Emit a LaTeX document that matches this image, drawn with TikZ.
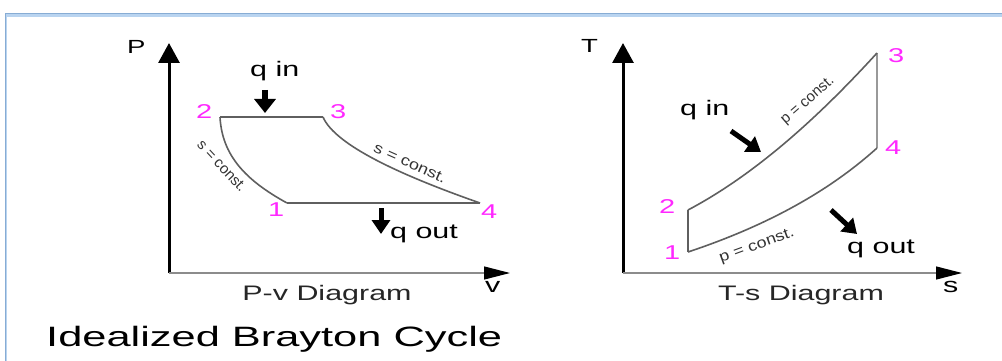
\documentclass[tikz,border=0pt]{standalone}
\usepackage{fontspec}
\setmainfont{Liberation Sans}
\usepackage{graphicx}
\usetikzlibrary{arrows.meta}
\definecolor{pinkno}{RGB}{255,40,255}
\definecolor{framebl}{RGB}{185,212,240}
\definecolor{framedk}{RGB}{135,172,212}
\definecolor{cycgray}{RGB}{95,95,95}
\newcommand{\wide}[2][1.45]{\scalebox{#1}[1]{#2}}
\begin{document}
\begin{tikzpicture}[x=1pt,y=-1pt,
  num/.style={text=pinkno, font=\fontsize{20}{20}\selectfont, inner sep=0pt, anchor=base west},
  lab/.style={font=\fontsize{21}{21}\selectfont, inner sep=0pt, anchor=base west},
  captext/.style={font=\fontsize{21}{21}\selectfont, inner sep=0pt, anchor=base, text=black!85},
  small/.style={font=\fontsize{15}{15}\selectfont, inner sep=0pt, text=black!80},
  yaxis/.style={line width=3pt, -{Triangle[width=21pt,length=20pt]}},
  xaxis/.style={draw=black!45, line width=1.2pt, -{Triangle[width=13pt,length=26pt,fill=black,color=black]}},
  cyc/.style={draw=cycgray, line width=1.6pt, line join=round},
  qarrow/.style={line width=6pt, -{Triangle[width=21pt,length=14pt]}}
]
\useasboundingbox (0,0) rectangle (1002,361);
% frame
\draw[framebl, line width=2.5pt] (6,361) -- (6,15.5) -- (1002,15.5);
\draw[framedk, line width=1pt] (5,361) -- (5,13.5) -- (1002,13.5);

% ---------- P-v diagram ----------
\coordinate (PO) at (169,273);
\coordinate (PY) at (169,43);
\coordinate (PX) at (510,273);
\draw[yaxis] (PO) -- (PY);
\draw[xaxis] (PO) -- (PX);
\node[lab, font=\fontsize{19}{19}\selectfont] (Plab) at (127,54) {\wide{P}};
\node[lab] (vlab) at (485,292) {\wide{v}};
\node[captext] (pvcap) at (327,300) {\wide{P-v Diagram}};

\coordinate (a1) at (287,203);
\coordinate (a2) at (220,117);
\coordinate (a3) at (323,117);
\coordinate (a4) at (480,203);
\draw[cyc] (a1) -- (a4);
\draw[cyc, line width=2.2pt] (a2) -- (a3);
\draw[cyc] (a2) .. controls (222,155) and (245,180) .. (a1);
\draw[cyc] (a3) .. controls (335,145) and (400,175) .. (a4);

\node[num] (n1a) at (268,216) {\wide{1}};
\node[num] (n2a) at (196,118) {\wide{2}};
\node[num] (n3a) at (330,118) {\wide{3}};
\node[num] (n4a) at (481,218) {\wide{4}};

\node[small, rotate=-47] (sc1) at (222,166) {s = const.};
\node[small, rotate=-24] (sc2) at (410,163) {\wide[1.2]{s = const.}};

\node[lab] (qin1) at (250,77) {\wide{q in}};
\coordinate (qi1s) at (265,90);
\coordinate (qi1e) at (265,113);
\draw[qarrow] (qi1s) -- (qi1e);
\node[lab] (qout1) at (390,238) {\wide{q out}};
\coordinate (qo1s) at (381,208);
\coordinate (qo1e) at (381,234);
\draw[qarrow, line width=5pt, -{Triangle[width=18pt,length=14pt]}] (qo1s) -- (qo1e);

% ---------- T-s diagram ----------
\coordinate (TO) at (623,273);
\coordinate (TY) at (623,43);
\coordinate (TX) at (962,273);
\draw[yaxis] (TO) -- (TY);
\draw[xaxis] (TO) -- (TX);
\node[lab, font=\fontsize{19}{19}\selectfont] (Tlab) at (581,53) {\wide{T}};
\node[lab] (slab) at (943,292) {\wide{s}};
\node[captext] (tscap) at (801,300) {\wide{T-s Diagram}};

\coordinate (b1) at (688,252);
\coordinate (b2) at (688,210);
\coordinate (b3) at (877,53);
\coordinate (b4) at (877,148);
\draw[cyc] (b1) -- (b2);
\draw[cyc, draw=black!40] (b3) -- (b4);
\draw[cyc] (b2) .. controls (760,172) and (825,110) .. (b3);
\draw[cyc] (b1) .. controls (760,228) and (825,195) .. (b4);

\node[num] (n1b) at (664,259) {\wide{1}};
\node[num] (n2b) at (659,213) {\wide{2}};
\node[num] (n3b) at (888,63) {\wide{3}};
\node[num] (n4b) at (885,154) {\wide{4}};

\node[small, rotate=41] (pc1) at (808,101) {p = const.};
\node[small, rotate=20] (pc2) at (757,246) {\wide[1.2]{p = const.}};

\node[lab] (qin2) at (680,115) {\wide{q in}};
\coordinate (qi2s) at (731,131);
\coordinate (qi2e) at (761,152);
\draw[qarrow, line width=5pt, -{Triangle[width=18pt,length=14pt]}] (qi2s) -- (qi2e);
\node[lab] (qout2) at (847,253) {\wide{q out}};
\coordinate (qo2s) at (831,210);
\coordinate (qo2e) at (857,234);
\draw[qarrow, line width=5pt, -{Triangle[width=18pt,length=14pt]}] (qo2s) -- (qo2e);

% ---------- title ----------
\node[inner sep=0pt, anchor=base west, font=\fontsize{28}{28}\selectfont] (title) at (46,346) {\wide[1.55]{Idealized Brayton Cycle}};
\end{tikzpicture}
\end{document}
